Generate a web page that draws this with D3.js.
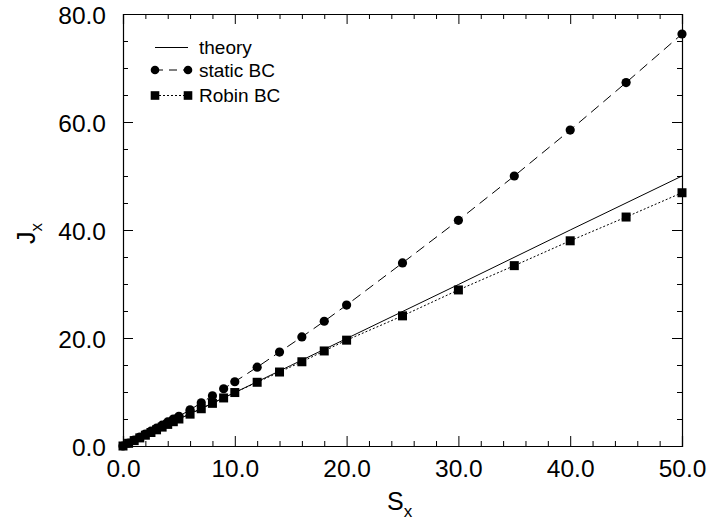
<!DOCTYPE html>
<html>
<head>
<meta charset="utf-8">
<script src="https://cdn.jsdelivr.net/npm/d3@7"></script>
<style>
  html, body { margin: 0; padding: 0; background: #fff; }
  svg { display: block; font-family: "Liberation Sans", Arial, sans-serif; }
</style>
</head>
<body>
<svg id="chart" width="709" height="520"></svg>
<script>
// Flux J_x versus driving S_x
const staticS = [0, 0.5, 1, 1.5, 2, 2.5, 3, 3.5, 4, 4.5, 5, 6, 7, 8, 9, 10, 12, 14, 16, 18, 20, 25, 30, 35, 40, 45, 50];
const staticJ = [0, 0.55, 1.1, 1.65, 2.2, 2.75, 3.3, 3.85, 4.45, 5.0, 5.5, 6.7, 8.0, 9.3, 10.6, 11.9, 14.6, 17.4, 20.2, 23.1, 26.1, 33.9, 41.8, 50.0, 58.5, 67.3, 76.3];
const robinS = [0, 0.5, 1, 1.5, 2, 2.5, 3, 3.5, 4, 4.5, 5, 6, 7, 8, 9, 10, 12, 14, 16, 18, 20, 25, 30, 35, 40, 45, 50];
const robinJ = [0, 0.5, 1.0, 1.5, 2.0, 2.5, 3.0, 3.5, 4.0, 4.5, 5.0, 5.9, 6.9, 7.9, 8.9, 9.9, 11.8, 13.7, 15.6, 17.6, 19.6, 24.1, 28.9, 33.4, 38.0, 42.4, 46.9];
const theoryS = [0, 5, 10, 15, 20, 30, 40, 50];
const theoryJ = [0, 5.0, 9.9, 14.9, 19.9, 29.9, 40.0, 50.0];
const xTicks = [0, 10, 20, 30, 40, 50];
const yTicks = [0, 20, 40, 60, 80];
const legendLabels = ["theory", "static BC", "Robin BC"];

const svg = d3.select("#chart");
const plot = { left: 123, right: 682, top: 14, bottom: 446 };

const x = d3.scaleLinear().domain([0, 50]).range([plot.left, plot.right]);
const y = d3.scaleLinear().domain([0, 80]).range([plot.bottom, plot.top]);
const fmt = d3.format(".1f");

const xMinor = d3.range(0, 50.001, 2).filter(v => v % 10 !== 0);
const yMinor = d3.range(0, 80.001, 5).filter(v => v % 20 !== 0);

// Frame with inward ticks on all four sides
function frameAxis(axisGen, transform, major, minor, showLabels) {
  const g = svg.append("g").attr("transform", transform);
  g.call(axisGen.tickValues(major).tickSize(10).tickFormat(showLabels ? fmt : ""));
  g.append("g").call(axisGen.tickValues(minor).tickSize(5).tickFormat(""))
    .call(s => s.select(".domain").remove());
  g.selectAll("path.domain").attr("stroke", "#000").attr("stroke-width", 1.2);
  g.selectAll("line").attr("stroke", "#000").attr("stroke-width", 1);
  return g;
}

const tickFont = 24.5;

const gx = frameAxis(d3.axisTop(x), `translate(0,${plot.bottom})`, xTicks, xMinor, true);
gx.selectAll("text").attr("y", 31).attr("dy", 0).attr("font-size", tickFont)
  .attr("font-family", "Liberation Sans, Arial, sans-serif").attr("fill", "#000");

frameAxis(d3.axisBottom(x), `translate(0,${plot.top})`, xTicks, xMinor, false);

const gy = frameAxis(d3.axisRight(y), `translate(${plot.left},0)`, yTicks, yMinor, true);
gy.selectAll("text").attr("x", -17).attr("text-anchor", "end").attr("dy", "0.38em")
  .attr("font-size", tickFont).attr("font-family", "Liberation Sans, Arial, sans-serif").attr("fill", "#000");

frameAxis(d3.axisLeft(y), `translate(${plot.right},0)`, yTicks, yMinor, false);

// Axis titles
const xt = svg.append("text").attr("x", 387).attr("y", 510).attr("text-anchor", "start")
  .attr("font-size", 25).attr("fill", "#000");
xt.append("tspan").text("S");
xt.append("tspan").attr("font-size", 17).attr("dy", 7).text("x");

const yt = svg.append("text").attr("transform", "translate(35,244) rotate(-90)")
  .attr("text-anchor", "start").attr("font-size", 25).attr("fill", "#000");
yt.append("tspan").text("J");
yt.append("tspan").attr("font-size", 17).attr("dy", 7).text("x");

const line = d3.line().x(d => x(d[0])).y(d => y(d[1]));
const zip = (a, b) => a.map((v, i) => [v, b[i]]);

const theoryData = zip(theoryS, theoryJ);
const staticData = zip(staticS, staticJ);
const robinData = zip(robinS, robinJ);

svg.append("path").datum(theoryData).attr("d", line)
  .attr("fill", "none").attr("stroke", "#000").attr("stroke-width", 1);
svg.append("path").datum(staticData).attr("d", line)
  .attr("fill", "none").attr("stroke", "#000").attr("stroke-width", 1).attr("stroke-dasharray", "10,6");
svg.append("path").datum(robinData).attr("d", line)
  .attr("fill", "none").attr("stroke", "#000").attr("stroke-width", 1).attr("stroke-dasharray", "2,2");

svg.append("g").selectAll("circle").data(staticData).join("circle")
  .attr("cx", d => x(d[0])).attr("cy", d => y(d[1])).attr("r", 4.6).attr("fill", "#000");

const sq = 9;
svg.append("g").selectAll("rect").data(robinData).join("rect")
  .attr("x", d => x(d[0]) - sq / 2).attr("y", d => y(d[1]) - sq / 2)
  .attr("width", sq).attr("height", sq).attr("fill", "#000");

// Legend
const lg = svg.append("g");
const lx0 = 155, lx1 = 188, ly = [47.5, 70, 95.5];
lg.append("line").attr("x1", lx0).attr("x2", lx1).attr("y1", ly[0]).attr("y2", ly[0])
  .attr("stroke", "#000").attr("stroke-width", 1);
lg.append("line").attr("x1", lx0).attr("x2", lx1).attr("y1", ly[1]).attr("y2", ly[1])
  .attr("stroke", "#000").attr("stroke-width", 1).attr("stroke-dasharray", "8,6");
lg.append("line").attr("x1", lx0).attr("x2", lx1).attr("y1", ly[2]).attr("y2", ly[2])
  .attr("stroke", "#000").attr("stroke-width", 1).attr("stroke-dasharray", "2,2");
[lx0, lx1].forEach(px => {
  lg.append("circle").attr("cx", px).attr("cy", ly[1]).attr("r", 4.3).attr("fill", "#000");
  lg.append("rect").attr("x", px - 4.3).attr("y", ly[2] - 4.3).attr("width", 8.6).attr("height", 8.6).attr("fill", "#000");
});
lg.selectAll("text.lab").data(legendLabels).join("text").attr("class", "lab")
  .attr("x", 199).attr("y", (d, i) => ly[i]).attr("dy", "0.35em")
  .attr("font-size", 19).attr("fill", "#000").text(d => d);
</script>
</body>
</html>
